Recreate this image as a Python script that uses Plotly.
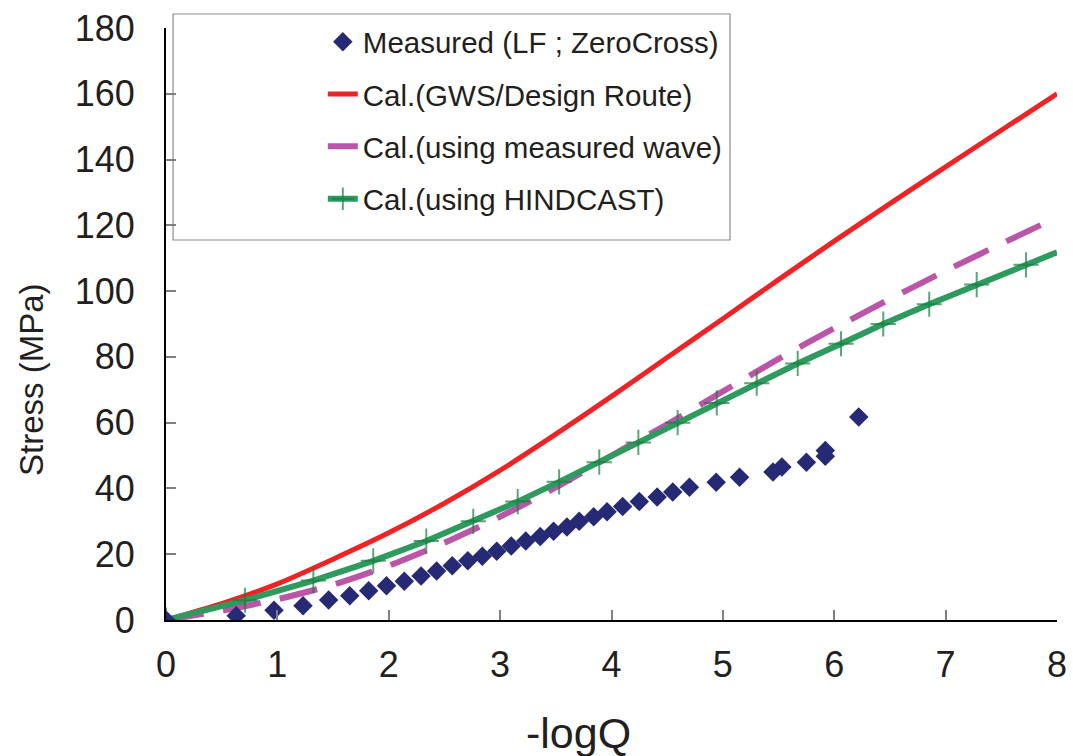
import plotly.graph_objects as go

# ---------------- data ----------------
meas_x = [0, 0.63, 0.97, 1.23, 1.46, 1.65, 1.82, 1.98, 2.14, 2.29, 2.43, 2.57, 2.71, 2.84,
          2.97, 3.10, 3.23, 3.36, 3.48, 3.60, 3.71, 3.84, 3.96, 4.10, 4.25, 4.41, 4.55,
          4.70, 4.94, 5.15, 5.45, 5.53, 5.75, 5.92, 5.92, 6.22]
meas_y = [0, 1.3, 3.0, 4.3, 6.1, 7.4, 8.9, 10.4, 11.8, 13.4, 14.9, 16.5, 18.0, 19.4,
          20.9, 22.5, 24.0, 25.4, 27.0, 28.3, 30.0, 31.4, 32.9, 34.5, 36.0, 37.4, 38.9,
          40.4, 41.9, 43.4, 45.0, 46.5, 48.0, 49.8, 51.5, 61.7]

gws_x = [0, 0.5, 1.0, 1.5, 2.0, 2.5, 3.0, 3.5, 4.0, 4.5, 5.0, 5.5, 6.0, 6.5, 7.0, 7.5, 8.0]
gws_y = [0, 5.0, 11.0, 18.5, 26.5, 35.5, 45.5, 56.5, 68.0, 79.8, 91.6, 103.5, 115.2,
         126.6, 137.8, 148.9, 160.0]

mwave_x = [0, 0.5, 1.0, 1.5, 2.0, 2.5, 3.0, 3.5, 4.0, 4.5, 5.0, 5.5, 6.0, 6.5, 7.0, 7.5, 8.0]
mwave_y = [0, 2.8, 6.3, 10.7, 16.5, 23.5, 31.4, 40.3, 50.0, 59.5, 69.5, 79.4, 88.7,
           97.6, 106.2, 114.4, 122.4]

hind_x = [0, 0.709, 1.323, 1.861, 2.337, 2.759, 3.158, 3.530, 3.890, 4.241, 4.594,
          4.945, 5.304, 5.672, 6.061, 6.440, 6.853, 7.279, 7.722, 8.0]
hind_y = [0, 6, 12, 18, 24, 30, 36, 42, 48, 54, 60, 66, 72, 78, 84, 90, 96, 102, 108, 111.8]

x_ticks = [0, 1, 2, 3, 4, 5, 6, 7, 8]
y_ticks = [0, 20, 40, 60, 80, 100, 120, 140, 160, 180]

names = ["Measured (LF ; ZeroCross)", "Cal.(GWS/Design Route)",
         "Cal.(using measured wave)", "Cal.(using HINDCAST)"]
x_title = "-logQ"
y_title = "Stress (MPa)"

# ---------------- figure ----------------
FONT = "Liberation Sans, Arial, sans-serif"
TXT = "#231f20"

fig = go.Figure()

fig.add_trace(go.Scatter(
    x=gws_x, y=gws_y, mode="lines", name=names[1], legendrank=2, legendgroup="b",
    line=dict(color="#EE2325", width=5, shape="spline", smoothing=0.6)))

fig.add_trace(go.Scatter(
    x=mwave_x, y=mwave_y, mode="lines", name=names[2], legendrank=3, legendgroup="c",
    line=dict(color="#BA55A8", width=6, dash="38px,20px", shape="spline", smoothing=0.6)))

hind_sizes = [18] * (len(hind_x) - 1) + [0]
fig.add_trace(go.Scatter(
    x=hind_x, y=hind_y, mode="lines+markers", name=names[3], legendrank=4, legendgroup="d",
    line=dict(color="#2E9A5E", width=6),
    marker=dict(symbol="cross-thin", size=hind_sizes,
                line=dict(color="#16803E", width=2), color="#16803E")))

fig.add_trace(go.Scatter(
    x=meas_x, y=meas_y, mode="markers", name=names[0], legendrank=1, legendgroup="a",
    marker=dict(symbol="diamond", size=15, color="#262A74")))

fig.update_layout(
    width=1073, height=756,
    margin=dict(l=166, r=16, t=28, b=136, autoexpand=False),
    paper_bgcolor="white", plot_bgcolor="white",
    font=dict(family=FONT, color=TXT),
    showlegend=True,
    legend=dict(
        x=0.176, y=1.0203, xanchor="left", yanchor="top",
        bgcolor="rgba(0,0,0,0)", borderwidth=0,
        font=dict(family=FONT, size=29.5, color=TXT),
        tracegroupgap=11, itemwidth=30,
    ),
    shapes=[dict(type="rect", xref="paper", yref="paper",
                 x0=0.0079, x1=0.633, y0=(620 - 240) / 592, y1=(620 - 14) / 592,
                 line=dict(color="#8c8c8c", width=1.2), fillcolor="white",
                 layer="below")],
    annotations=[
        dict(text=y_title, xref="paper", yref="paper", x=(32 - 166) / 891,
             y=(620 - 380) / 592, textangle=-90, showarrow=False,
             xanchor="center", yanchor="middle",
             font=dict(size=33, family=FONT, color=TXT)),
        dict(text=x_title, xref="paper", yref="paper", x=(578 - 166) / 891,
             y=(620 - 733) / 592, showarrow=False, xanchor="center", yanchor="middle",
             font=dict(size=43, family=FONT, color=TXT)),
    ],
)

fig.update_xaxes(
    range=[0, 8], tickvals=x_ticks, ticks="inside", ticklen=10, tickcolor="#7f7f7f",
    tickwidth=1.5, showline=True, linecolor="black", linewidth=2, showgrid=False,
    zeroline=False, tickfont=dict(size=36, family=FONT, color=TXT),
    ticklabelstandoff=12, automargin=False,
)
fig.update_yaxes(
    range=[0, 180], tickvals=y_ticks, ticks="inside", ticklen=10, tickcolor="#7f7f7f",
    tickwidth=1.5, showline=True, linecolor="black", linewidth=2, showgrid=False,
    zeroline=False, tickfont=dict(size=36, family=FONT, color=TXT),
    ticklabelstandoff=22, automargin=False,
)

fig.write_html("out.html",
               config={"displayModeBar": False},
               post_script="document.body.style.margin='0';document.body.style.overflow='hidden';")
